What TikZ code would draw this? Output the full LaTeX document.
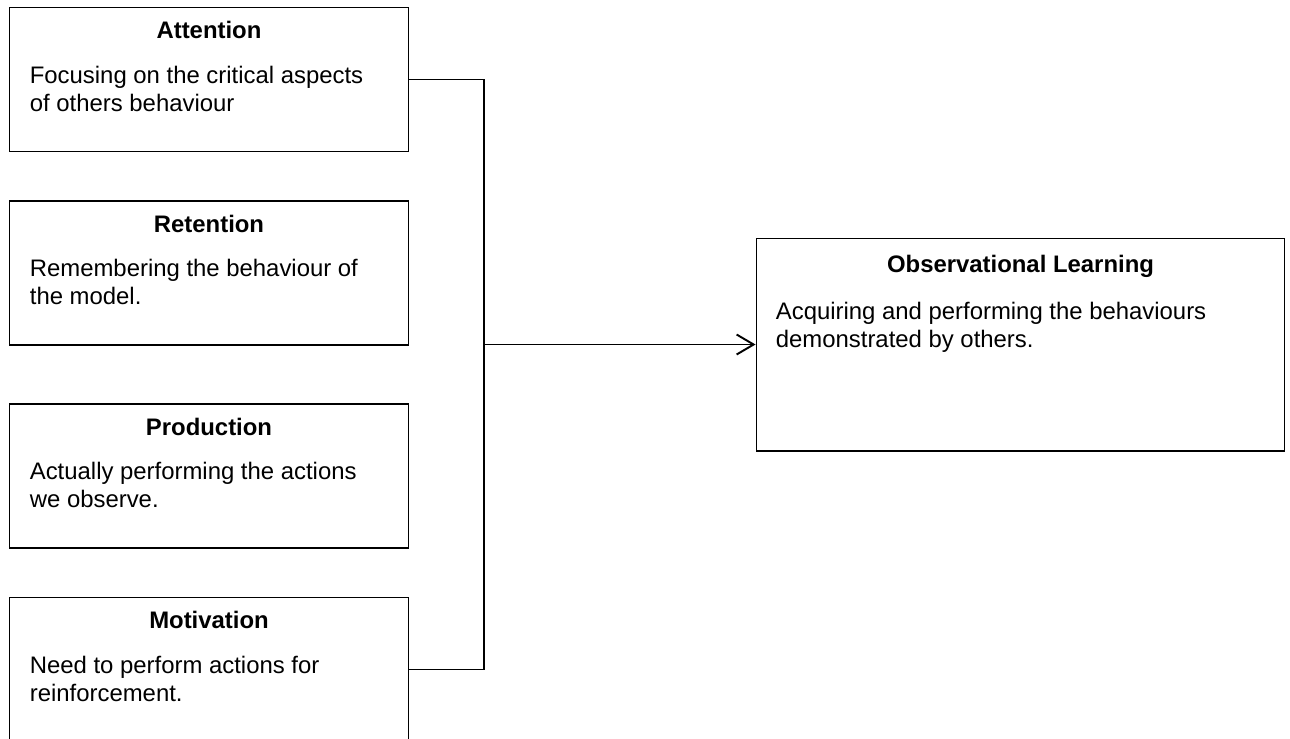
\documentclass[tikz,border=0pt]{standalone}
\usepackage{fontspec}
\setmainfont{Liberation Sans}
\usetikzlibrary{arrows.meta}
\tikzstyle{stage} = [rectangle, draw=black, line width=0.6pt,
                     minimum width=8cm, minimum height=2.88cm, inner sep=0pt]
\tikzstyle{heading} = [anchor=base, inner sep=0pt,
                       font=\fontsize{13.6pt}{16.2pt}\selectfont\bfseries]
\tikzstyle{body} = [anchor=base west, inner sep=0pt, align=left,
                    font=\fontsize{13.6pt}{16.2pt}\selectfont]
\tikzstyle{link} = [line width=1.1pt]
\tikzstyle{arrow} = [line width=1.1pt, -{Straight Barb[length=3.4mm, width=4mm, line width=1.1pt]}]

\begin{document}
\begin{tikzpicture}[x=0.02cm, y=-0.02cm]
        \useasboundingbox (0,0) rectangle (1290,738);

        % the four stages on the left
        \node (Attention) [stage] at (209,79.5) {};
        \node (Retention) [stage] at (209,273) {};
        \node (Production) [stage] at (209,476) {};
        \node (Motivation) [stage] at (209,669.5) {};

        % body nodes sit on the baseline of their last line
        \node (AttentionHead) [heading, yshift=-0.64cm] at (Attention.north) {Attention};
        \node (AttentionText) [body, xshift=0.42cm, yshift=-2.09cm] at (Attention.north west)
              {Focusing on the critical aspects\\of others behaviour};

        \node (RetentionHead) [heading, yshift=-0.64cm] at (Retention.north) {Retention};
        \node (RetentionText) [body, xshift=0.42cm, yshift=-2.09cm] at (Retention.north west)
              {Remembering the behaviour of\\the model.};

        \node (ProductionHead) [heading, yshift=-0.64cm] at (Production.north) {Production};
        \node (ProductionText) [body, xshift=0.42cm, yshift=-2.09cm] at (Production.north west)
              {Actually performing the actions\\we observe.};

        \node (MotivationHead) [heading, yshift=-0.64cm] at (Motivation.north) {Motivation};
        \node (MotivationText) [body, xshift=0.42cm, yshift=-2.09cm] at (Motivation.north west)
              {Need to perform actions for\\reinforcement.};

        % the outcome on the right
        \node (Learning) [stage, minimum width=10.58cm, minimum height=4.26cm] at (1020.5,344.5) {};
        \node (LearningHead) [heading, yshift=-0.70cm] at (Learning.north) {Observational Learning};
        \node (LearningText) [body, xshift=0.40cm, yshift=-2.21cm] at (Learning.north west)
              {Acquiring and performing the behaviours\\demonstrated by others.};

        % bus joining the stages
        \coordinate (Bus) at (484,344.5);
        \draw [link] (Attention.east) -| (Bus) |- (Motivation.east);
        \draw [arrow] (Bus) -- (Learning.west);

    \end{tikzpicture}
\end{document}
